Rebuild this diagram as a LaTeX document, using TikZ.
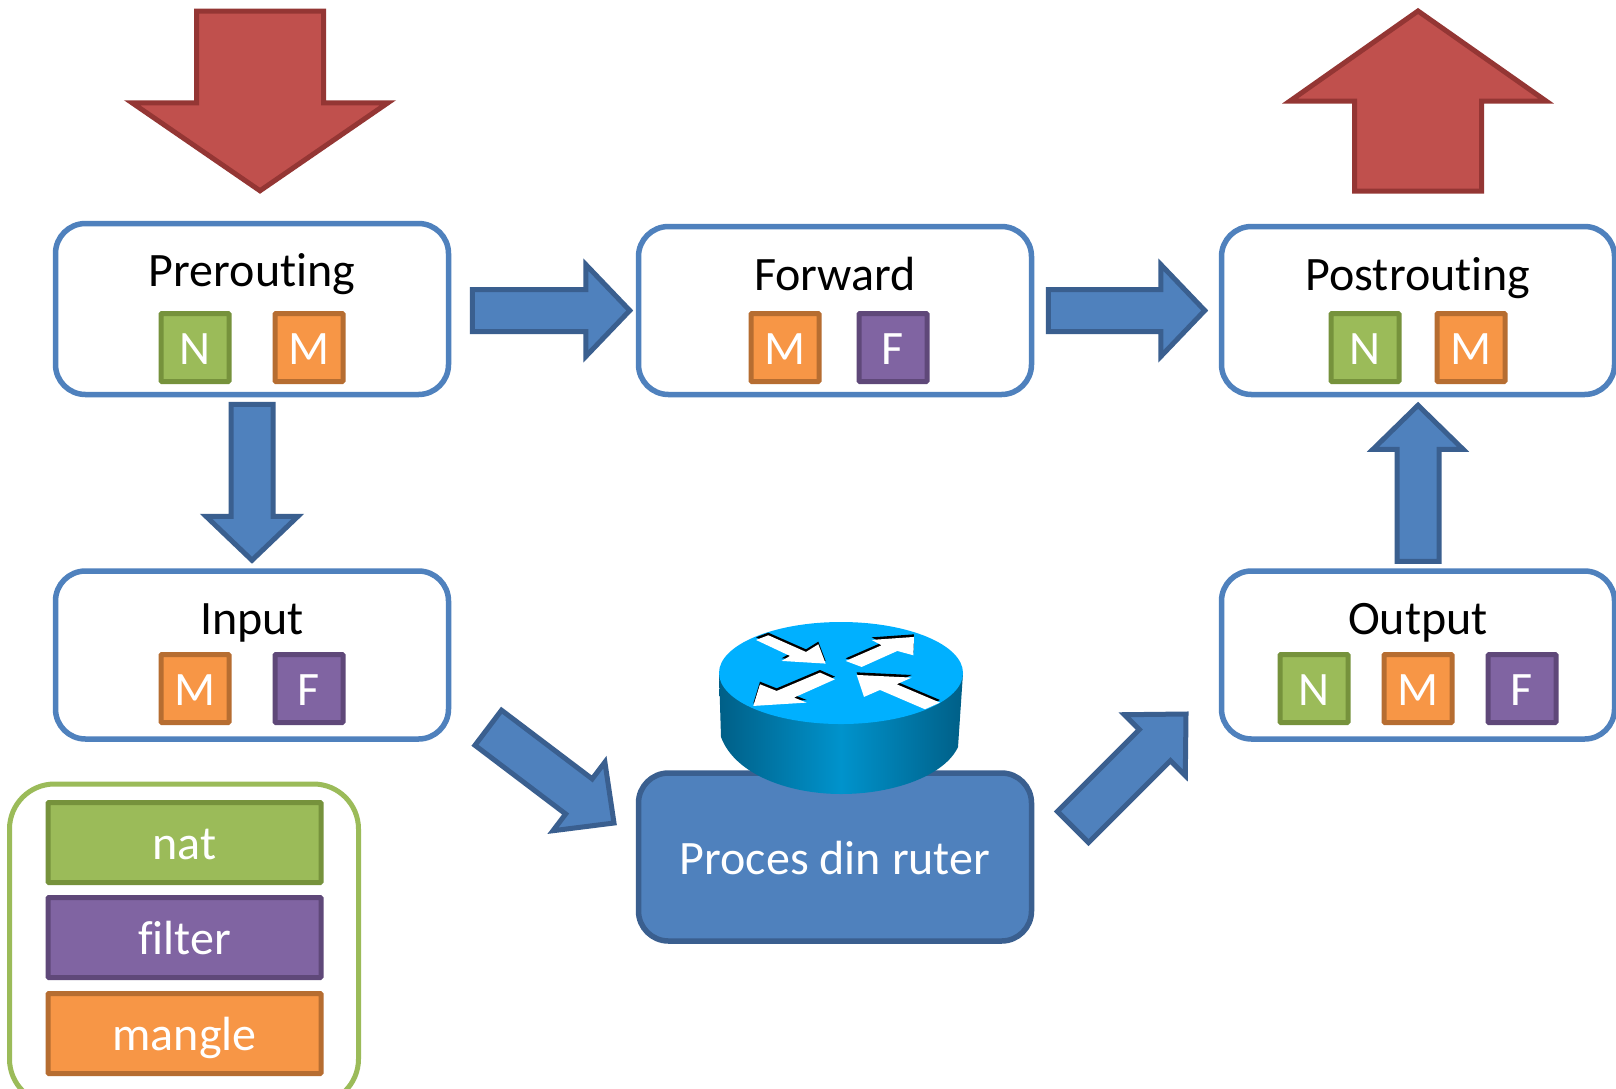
\documentclass[tikz,border=0pt]{standalone}
\usepackage{fontspec}
\setmainfont[RawFeature=-liga]{Carlito}
\usetikzlibrary{calc}
\definecolor{bluefill}{HTML}{4F81BD}
\definecolor{blueline}{HTML}{3A5F8F}
\definecolor{redfill}{HTML}{C0504D}
\definecolor{redline}{HTML}{943634}
\definecolor{natfill}{HTML}{9BBB59}
\definecolor{natline}{HTML}{76923C}
\definecolor{filfill}{HTML}{8064A2}
\definecolor{filline}{HTML}{5F4879}
\definecolor{manfill}{HTML}{F79646}
\definecolor{manline}{HTML}{B66D31}
\definecolor{routertop}{HTML}{00B0FF}
\definecolor{routerdark}{HTML}{005F87}
\definecolor{routermid}{HTML}{0093CC}
\tikzset{
  chain/.style={draw=bluefill,fill=white,line width=5.5pt,rounded corners=30pt,minimum width=393pt,minimum height=168pt,inner sep=0pt},
  title/.style={anchor=base,inner sep=0pt,font=\fontsize{48}{54}\selectfont,text=black},
  tag/.style={line width=5pt,rounded corners=1pt,minimum width=68pt,minimum height=68pt,inner sep=0pt,text=white,font=\fontsize{48}{54}\selectfont,text height=33pt,text depth=0pt},
  legendbar/.style={line width=5pt,rounded corners=1pt,minimum width=273pt,minimum height=80pt,inner sep=0pt,text=white,font=\fontsize{48}{54}\selectfont,text height=34pt,text depth=0pt},
  nat/.style={draw=natline,fill=natfill},
  fil/.style={draw=filline,fill=filfill},
  man/.style={draw=manline,fill=manfill},
  bluearrow/.style={draw=blueline,fill=bluefill,line width=5pt,miter limit=10},
  redarrow/.style={draw=redline,fill=redfill,line width=5pt,miter limit=10},
}
% #1 style, #2 from, #3 to, #4 half shaft, #5 half head, #6 head length
\newcommand\blockarrow[6]{%
  \coordinate (hb) at ($(#3)!#6pt!(#2)$);
  \draw[#1] ($(#2)!#4pt!90:(#3)$) -- ($(hb)!#4pt!90:(#3)$) -- ($(hb)!#5pt!90:(#3)$) -- (#3)
    -- ($(hb)!#5pt!-90:(#3)$) -- ($(hb)!#4pt!-90:(#3)$) -- ($(#2)!#4pt!-90:(#3)$) -- cycle;
}
% white router arrow with black edge; coordinates in zoom units
\newcommand\routerarrow[1]{%
  \begin{scope}[x=0.3333pt,y=-0.3333pt,shift={(680pt,-600pt)}]
    \fill[black] plot coordinates {#1} -- cycle;
    \begin{scope}[yshift=-2.6pt]
      \fill[white] plot coordinates {#1} -- cycle;
    \end{scope}
  \end{scope}
}
\begin{document}
\begin{tikzpicture}[x=1pt,y=-1pt]
\useasboundingbox (0,0) rectangle (1616,1088);
\fill[white] (0,0) rectangle (1616,1088);
% chain boxes
\node[chain,minimum height=171pt] (pre) at (252,309) {};
\node[chain] (fwd) at (835,310.5) {};
\node[chain] (post) at (1418,310.5) {};
\node[chain] (inp) at (252,655) {};
\node[chain] (out) at (1418,655) {};
\node[chain,fill=bluefill,draw=blueline] (proc) at (835,857) {};
% titles
\node[title] (pret) at (252,286) {Prerouting};
\node[title] (fwdt) at (835,290) {Forward};
\node[title] (postt) at (1418,290) {Postrouting};
\node[title] (inpt) at (252,634) {Input};
\node[title] (outt) at (1418,634) {Output};
\node[title,text=white] (proct) at (835,874) {Proces din ruter};
% tags
\node[tag,nat] (pren) at (195,347.5) {N};
\node[tag,man] (prem) at (309,347.5) {M};
\node[tag,man] (fwdm) at (785,347.5) {M};
\node[tag,fil] (fwdf) at (893,347.5) {F};
\node[tag,nat] (postn) at (1365,347.5) {N};
\node[tag,man] (postm) at (1471,347.5) {M};
\node[tag,man] (inpm) at (195,688.5) {M};
\node[tag,fil] (inpf) at (309,688.5) {F};
\node[tag,nat] (outn) at (1314,688.5) {N};
\node[tag,man] (outm) at (1418,688.5) {M};
\node[tag,fil] (outf) at (1522,688.5) {F};
% legend
\node[draw=natfill,line width=5pt,rounded corners=45pt,minimum width=349pt,minimum height=320pt,inner sep=0pt] (legend) at (184,944) {};
\node[legendbar,nat] (lnat) at (184.5,842.5) {nat};
\node[legendbar,fil] (lfil) at (184.5,937.5) {filter};
\node[legendbar,man] (lman) at (184.5,1033.5) {mangle};
% block-arrow ends
\coordinate (a1) at ($(pre.east)+(21,1.5)$);
\coordinate (a2) at ($(fwd.west)+(-6,0)$);
\coordinate (b1) at ($(fwd.east)+(14,0)$);
\coordinate (b2) at ($(post.west)+(-14,0)$);
\coordinate (c1) at ($(pre.south)+(0,7)$);
\coordinate (c2) at ($(inp.north)+(0,-8)$);
\coordinate (d1) at ($(out.north)+(0,-7)$);
\coordinate (d2) at ($(post.south)+(0,8)$);
\coordinate (e1) at ($(inp.south east)+(37,-14)$);
\coordinate (e2) at (614,823);
\coordinate (f1) at (1073,827);
\coordinate (f2) at (1186,714);
\coordinate (r1) at (260,11);
\coordinate (r2) at ($(pre.north)+(8,-30)$);
\coordinate (s1) at (1418,191);
\coordinate (s2) at (1418,11);
\blockarrow{bluearrow}{a1}{a2}{21}{46}{44}
\blockarrow{bluearrow}{b1}{b2}{21}{46}{44}
\blockarrow{bluearrow}{c1}{c2}{21}{46}{44}
\blockarrow{bluearrow}{d1}{d2}{21}{45}{44}
\blockarrow{bluearrow}{e1}{e2}{22}{43}{44}
\blockarrow{bluearrow}{f1}{f2}{22}{43}{44}
\blockarrow{redarrow}{r1}{r2}{63.5}{128}{88}
\blockarrow{redarrow}{s1}{s2}{63.5}{128}{90}
% router
\shade[left color=routerdark,right color=routerdark,middle color=routermid]
  (719,673) -- (721,737) .. controls (735,775) and (790,794) .. (841,794)
  .. controls (895,794) and (945,775) .. (958,747) -- (963,673) -- cycle;
\fill[routertop] (841,673) ellipse [x radius=122,y radius=51];
\routerarrow{(228,112)(265,98)(378,148)(415,125)(437,183)(305,175)(330,160)}
\routerarrow{(497,175)(605,128)(575,112)(702,103)(700,158)(652,145)(545,193)}
\routerarrow{(465,230)(420,210)(290,265)(240,245)(220,310)(380,300)(342,285)}
\routerarrow{(780,300)(650,245)(695,225)(530,217)(552,283)(600,262)(735,320)}
\end{tikzpicture}
\end{document}
